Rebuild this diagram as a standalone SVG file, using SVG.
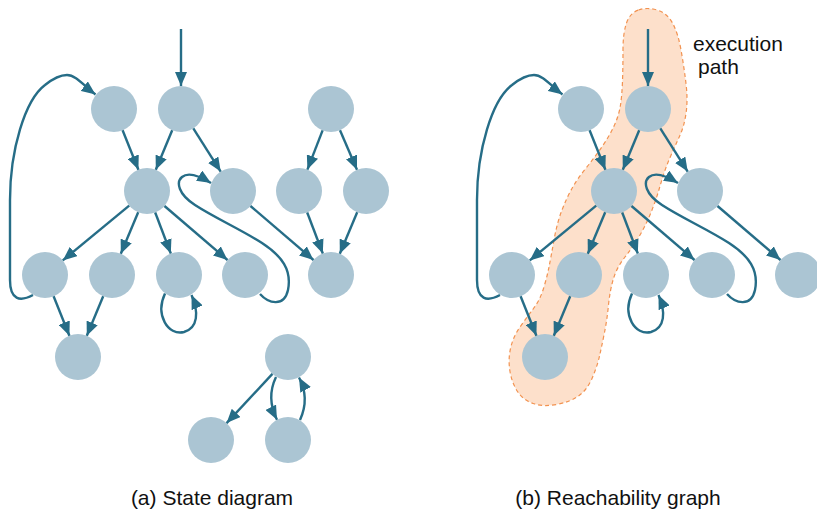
<svg xmlns="http://www.w3.org/2000/svg" width="817" height="517" viewBox="0 0 817 517">
<defs>
<marker id="arr" markerUnits="userSpaceOnUse" markerWidth="14" markerHeight="12" refX="14" refY="6" orient="auto">
<path d="M0,0 L14,6 L0,12 Z" fill="#266d87"/>
</marker>
<style>
.n{fill:#abc5d3;}
.e{fill:none;stroke:#266d87;stroke-width:2.4;marker-end:url(#arr);}
.t{font-family:"Liberation Sans",Arial,sans-serif;font-size:21px;fill:#111;}
.blob{fill:#fde0cb;stroke:#f29250;stroke-width:1.2;stroke-dasharray:4 3;}
</style>
</defs>
<rect width="817" height="517" fill="#fff"/>

<g id="execution-path">
<path class="blob" d="M 638.5 10 Q 647 7 657 10 Q 667 13 672.5 23 Q 678 33 681 50 Q 684 67 686 83.5 Q 688 100 686 113.5 Q 684 127 679 137.5 Q 674 148 669 160 Q 664 172 660.5 184.5 Q 657 197 652 210 Q 647 223 640 235 Q 633 247 625 257 Q 617 267 613.5 278.5 Q 610 290 608.5 305 Q 607 320 604.5 332.5 Q 602 345 599.5 356 Q 597 367 592 378.5 Q 587 390 578.5 396 Q 570 402 556.5 404.5 Q 543 407 533 403.5 Q 523 400 517.5 391.5 Q 512 383 510 371.5 Q 508 360 510.5 348.5 Q 513 337 520 327 Q 527 317 533.5 308.5 Q 540 300 543.5 288.5 Q 547 277 549 267 Q 551 257 554 240 Q 557 223 562 210 Q 567 197 572.5 187.5 Q 578 178 586.5 167.5 Q 595 157 602.5 146 Q 610 135 614.5 125 Q 619 115 620.5 105 Q 622 95 622.5 81 Q 623 67 623 50 Q 623 33 626.5 23 Q 630 13 638.5 10 Z"/>
</g>

<!-- Left panel nodes -->
<g id="a-A"><circle class="n" cx="114" cy="109" r="23"/></g>
<g id="a-B"><circle class="n" cx="181" cy="109" r="23"/></g>
<g id="a-R"><circle class="n" cx="331" cy="109" r="23"/></g>
<g id="a-C"><circle class="n" cx="147" cy="191" r="23"/></g>
<g id="a-D"><circle class="n" cx="233" cy="191" r="23"/></g>
<g id="a-E"><circle class="n" cx="299" cy="191" r="23"/></g>
<g id="a-F"><circle class="n" cx="366" cy="191" r="23"/></g>
<g id="a-G"><circle class="n" cx="45" cy="275" r="23"/></g>
<g id="a-H"><circle class="n" cx="112" cy="275" r="23"/></g>
<g id="a-I"><circle class="n" cx="179" cy="275" r="23"/></g>
<g id="a-J"><circle class="n" cx="245" cy="275" r="23"/></g>
<g id="a-K"><circle class="n" cx="331" cy="275" r="23"/></g>
<g id="a-L"><circle class="n" cx="78" cy="357" r="23"/></g>
<g id="a-M"><circle class="n" cx="288" cy="357" r="23"/></g>
<g id="a-N"><circle class="n" cx="211" cy="440" r="23"/></g>
<g id="a-O"><circle class="n" cx="288" cy="440" r="23"/></g>

<!-- Right panel nodes -->
<g id="b-A"><circle class="n" cx="581" cy="109" r="23"/></g>
<g id="b-B"><circle class="n" cx="648" cy="109" r="23"/></g>
<g id="b-C"><circle class="n" cx="614" cy="191" r="23"/></g>
<g id="b-D"><circle class="n" cx="700" cy="191" r="23"/></g>
<g id="b-G"><circle class="n" cx="512" cy="275" r="23"/></g>
<g id="b-H"><circle class="n" cx="579" cy="275" r="23"/></g>
<g id="b-I"><circle class="n" cx="646" cy="275" r="23"/></g>
<g id="b-J"><circle class="n" cx="712" cy="275" r="23"/></g>
<g id="b-K"><circle class="n" cx="798" cy="275" r="23"/></g>
<g id="b-L"><circle class="n" cx="545" cy="357" r="23"/></g>

<g id="connectors-a">
<path class="e" d="M181 29 L181 86"/>
<path class="e" d="M122.6 130.3 L138.4 169.7"/>
<path class="e" d="M172.2 130.2 L155.8 169.8"/>
<path class="e" d="M193.3 128.4 L220.7 171.6"/>
<path class="e" d="M129.2 205.6 L62.8 260.4"/>
<path class="e" d="M138.2 212.2 L120.8 253.8"/>
<path class="e" d="M155.2 212.5 L170.8 253.5"/>
<path class="e" d="M164.5 206 L227.5 260"/>
<path class="e" d="M250.5 206 L313.5 260"/>
<path class="e" d="M53.6 296.3 L69.4 335.7"/>
<path class="e" d="M103.2 296.2 L86.8 335.8"/>
<path class="e" d="M165 293.5 C155 315 168 336 184 332 C198 328 199 312 191.5 295"/>
<path class="e" d="M33 295 C20 302 10 300 10 280 L10 200 C10 150 25 100 45 85 C55 77 62 75 67 75 C76 75 84 86 95.5 94.5"/>
<path class="e" d="M260 294 C268 303 284 308 288 290 C292 270 282 256 262 243 C240 229 215 218 195 205 C178 194 176 182 182 177 C188 172 198 175 211 183"/>
<path class="e" d="M322.6 130.4 L307.4 169.6"/>
<path class="e" d="M340 130.2 L357 169.8"/>
<path class="e" d="M307.2 212.5 L322.8 253.5"/>
<path class="e" d="M357.2 212.2 L339.8 253.8"/>
<path class="e" d="M272.4 373.9 L226.6 423.1"/>
<path class="e" d="M276 377 Q266 398 277 419.8"/>
<path class="e" d="M300 420 Q310 398 299 377.5"/>
</g>

<g id="connectors-b" transform="translate(467,0)">
<path class="e" d="M181 29 L181 86"/>
<path class="e" d="M122.6 130.3 L138.4 169.7"/>
<path class="e" d="M172.2 130.2 L155.8 169.8"/>
<path class="e" d="M193.3 128.4 L220.7 171.6"/>
<path class="e" d="M129.2 205.6 L62.8 260.4"/>
<path class="e" d="M138.2 212.2 L120.8 253.8"/>
<path class="e" d="M155.2 212.5 L170.8 253.5"/>
<path class="e" d="M164.5 206 L227.5 260"/>
<path class="e" d="M250.5 206 L313.5 260"/>
<path class="e" d="M53.6 296.3 L69.4 335.7"/>
<path class="e" d="M103.2 296.2 L86.8 335.8"/>
<path class="e" d="M165 293.5 C155 315 168 336 184 332 C198 328 199 312 191.5 295"/>
<path class="e" d="M33 295 C20 302 10 300 10 280 L10 200 C10 150 25 100 45 85 C55 77 62 75 67 75 C76 75 84 86 95.5 94.5"/>
<path class="e" d="M260 294 C268 303 284 308 288 290 C292 270 282 256 262 243 C240 229 215 218 195 205 C178 194 176 182 182 177 C188 172 198 175 211 183"/>
</g>

<g id="labels">
<text class="t" x="212" y="505" text-anchor="middle">(a) State diagram</text>
<text class="t" x="618" y="505" text-anchor="middle">(b) Reachability graph</text>
<text class="t" x="693" y="51">execution</text>
<text class="t" x="698" y="74">path</text>
</g>
</svg>
